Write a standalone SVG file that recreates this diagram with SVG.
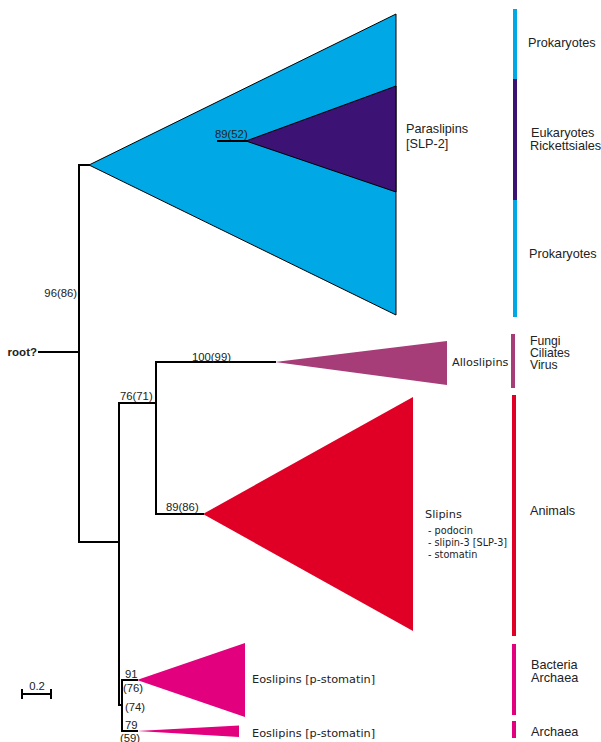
<svg xmlns="http://www.w3.org/2000/svg" width="601" height="742" viewBox="0 0 601 742">
<style>
.br{fill:none;stroke:#000;stroke-width:2;stroke-linecap:square}
.bs{font-family:"Liberation Sans",Arial,sans-serif;font-size:11.3px;fill:#222}
.lab{font-family:"Liberation Sans",Arial,sans-serif;font-size:12.7px;fill:#222}
.lab2{font-family:"Liberation Sans",Arial,sans-serif;font-size:12.2px;fill:#222}
.cl{font-family:"DejaVu Sans",Verdana,sans-serif;font-size:11.3px;fill:#222}
.sm{font-family:"DejaVu Sans",Verdana,sans-serif;font-size:9.7px;fill:#222}
.tri{stroke:#000;stroke-width:1;stroke-linejoin:miter}
</style>
<rect width="601" height="742" fill="#fff"/>
<g id="clade-prokaryotes">
<polygon class="tri" points="89,165 396,14 396,315" fill="#00a8e6"/>
</g>
<g id="clade-paraslipins">
<polygon class="tri" points="246,141 396,86 396,192" fill="#3d1275"/>
<text class="lab" x="406" y="133">Paraslipins</text>
<text class="lab" x="406" y="148">[SLP-2]</text>
</g>
<g id="clade-alloslipins">
<polygon points="275,362 447,341 447,385" fill="#a63d78"/>
<text class="cl" x="452" y="366">Alloslipins</text>
</g>
<g id="clade-slipins">
<polygon points="203,514 413,397 413,631" fill="#e00025"/>
<text class="cl" x="425" y="518">Slipins</text>
<text class="sm" x="428" y="534">- podocin</text>
<text class="sm" x="428" y="546">- slipin-3 [SLP-3]</text>
<text class="sm" x="428" y="558">- stomatin</text>
</g>
<g id="clade-eoslipins-1">
<polygon points="137,680 245,643 245,717" fill="#e2007e"/>
<text class="cl" x="252" y="683">Eoslipins [p-stomatin]</text>
</g>
<g id="clade-eoslipins-2">
<polygon points="137,731 239,725.5 239,737" fill="#e2007e"/>
<text class="cl" x="252" y="737">Eoslipins [p-stomatin]</text>
</g>
<g id="root">
<text x="37" y="356" text-anchor="end" font-family="'Liberation Sans',Arial,sans-serif" font-size="11.5" font-weight="bold" fill="#222">root?</text>
</g>
<g id="connectors">
<path class="br" d="M39,352 H79 M89,165 H79 V542 H119"/>
<path class="br" d="M218,141 H246"/>
<path class="br" d="M119,403 V705 M119,705 H121 M122,680 V731 M122,680 H137 M122,731 H137"/>
<path class="br" d="M119,403 H156 M156,362 V514 M156,362 H275 M156,514 H203"/>
</g>
<g id="bootstrap">
<text class="bs" x="77" y="297" text-anchor="end">96(86)</text>
<text class="bs" x="215" y="138">89(52)</text>
<text class="bs" x="192" y="361">100(99)</text>
<text class="bs" x="120" y="400">76(71)</text>
<text class="bs" x="166" y="511">89(86)</text>
<text class="bs" x="125" y="678">91</text>
<text class="bs" x="123" y="692">(76)</text>
<text class="bs" x="125" y="711">(74)</text>
<text class="bs" x="125" y="729">79</text>
<text class="bs" x="120" y="742">(59)</text>
</g>
<g id="scale">
<path class="br" d="M22,694 H51 M22,690 V698 M51,690 V698" stroke-linecap="butt"/>
<text class="bs" x="37" y="690" text-anchor="middle">0.2</text>
</g>
<g id="taxa-bars">
<rect x="513" y="9" width="4" height="70" fill="#00a8e6"/>
<rect x="513" y="79" width="4" height="121" fill="#3d1275"/>
<rect x="513" y="200" width="4" height="117" fill="#00a8e6"/>
<rect x="511" y="334" width="4" height="54" fill="#a63d78"/>
<rect x="512" y="395" width="4" height="241" fill="#e00025"/>
<rect x="512" y="644" width="4" height="71" fill="#e2007e"/>
<rect x="512" y="721" width="4" height="17" fill="#e2007e"/>
</g>
<g id="taxa-labels">
<text class="lab" x="528" y="47">Prokaryotes</text>
<text class="lab" x="531" y="137">Eukaryotes</text>
<text class="lab" x="530" y="150">Rickettsiales</text>
<text class="lab" x="529" y="258">Prokaryotes</text>
<text class="lab2" x="530" y="345">Fungi</text>
<text class="lab2" x="530" y="357">Ciliates</text>
<text class="lab2" x="530" y="369">Virus</text>
<text class="lab" x="530" y="515">Animals</text>
<text class="lab" x="531" y="669">Bacteria</text>
<text class="lab" x="531" y="682">Archaea</text>
<text class="lab" x="531" y="736">Archaea</text>
</g>
</svg>
